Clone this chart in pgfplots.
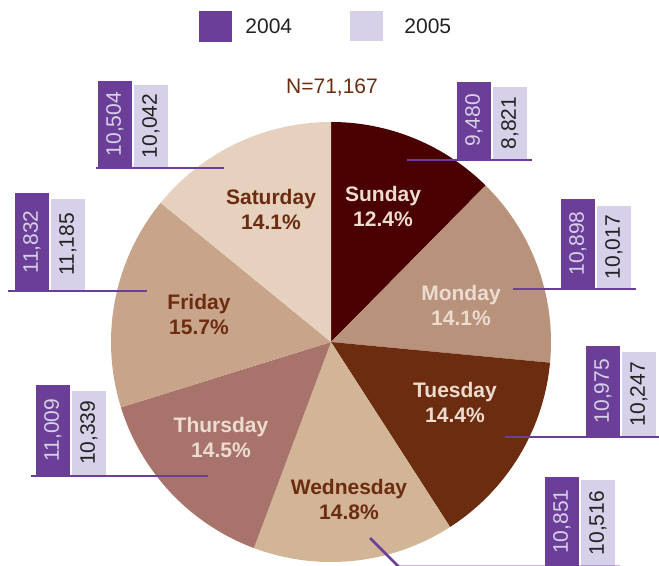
\documentclass[border=0pt]{standalone}
\usepackage{fontspec}
\setmainfont{Liberation Sans}
\usepackage{pgfplots}
\pgfplotsset{compat=1.18}
\definecolor{purp}{HTML}{6B3F98}
\definecolor{lav}{HTML}{D6D0E8}
\definecolor{numlight}{HTML}{D8D2E8}
\definecolor{numdark}{HTML}{222222}
\definecolor{cbrown}{HTML}{6B2C10}
\definecolor{clight}{HTML}{ECDCD0}
\definecolor{cSun}{HTML}{4A0000}
\definecolor{cMon}{HTML}{B8927A}
\definecolor{cTue}{HTML}{6B2C10}
\definecolor{cWed}{HTML}{D2B496}
\definecolor{cThu}{HTML}{A8736A}
\definecolor{cFri}{HTML}{C8A48A}
\definecolor{cSat}{HTML}{E6D0BE}
\tikzset{lbl/.style={align=center, inner sep=0pt, font=\bfseries\fontsize{10.5}{12.5}\selectfont}}
% pie: centre (331,342), radius 220 (pixel units, y downwards)
% slice: start angle, end angle (clockwise from top, 3.6 deg per percent), colour
\newcommand{\pieslice}[3]{%
  \addplot[fill=#3, draw=none, domain=#1:#2, samples=80]
    ({331+220*sin(x)}, {342-220*cos(x)}) -- (axis cs:331,342) -- cycle;}
% mini bars: left x, base y, value 2004, value 2005, label 2004, label 2005
\newcommand{\minibars}[6]{%
  \pgfmathsetmacro{\tA}{#2-0.00817*#3}%
  \pgfmathsetmacro{\tB}{#2-0.00817*#4}%
  \pgfmathsetmacro{\xA}{#1+34}%
  \pgfmathsetmacro{\xB}{#1+36}%
  \pgfmathsetmacro{\xC}{#1+70}%
  \pgfmathsetmacro{\cA}{#1+17}%
  \pgfmathsetmacro{\cB}{#1+53}%
  \pgfmathsetmacro{\mA}{(#2+\tA)/2}%
  \pgfmathsetmacro{\mB}{(#2+\tB)/2}%
  \edef\temp{%
    \noexpand\addplot[fill=purp,draw=none] coordinates {(#1,#2) (\xA,#2) (\xA,\tA) (#1,\tA)} -- cycle;
    \noexpand\addplot[fill=lav,draw=none] coordinates {(\xB,#2) (\xC,#2) (\xC,\tB) (\xB,\tB)} -- cycle;
    \noexpand\node[rotate=90, text=numlight, inner sep=0pt, font=\noexpand\fontsize{10.5}{12.5}\noexpand\selectfont] at (axis cs:\cA,\mA) {#5};
    \noexpand\node[rotate=90, text=numdark, inner sep=0pt, font=\noexpand\fontsize{10.5}{12.5}\noexpand\selectfont] at (axis cs:\cB,\mB) {#6};
  }\temp}
\begin{document}
\begin{tikzpicture}
\path[use as bounding box] (0,0) rectangle (329.5pt,283pt);
\begin{axis}[scale only axis, width=329.5pt, height=283pt,
  xmin=0, xmax=659, ymin=0, ymax=566, y dir=reverse,
  hide axis, clip=false, at={(0,0)}, anchor=south west]
% percentages: 12.4, 14.1, 14.4, 14.8, 14.5, 15.7, 14.1 (cumulative x 3.6 deg)
\pieslice{0}{44.64}{cSun}
\pieslice{44.64}{95.4}{cMon}
\pieslice{95.4}{147.24}{cTue}
\pieslice{147.24}{200.52}{cWed}
\pieslice{200.52}{252.72}{cThu}
\pieslice{252.72}{309.24}{cFri}
\pieslice{309.24}{360}{cSat}
\node[lbl, text=clight] at (axis cs:383,206) {Sunday\\12.4\%};
\node[lbl, text=clight] at (axis cs:461,305) {Monday\\14.1\%};
\node[lbl, text=clight] at (axis cs:455,402) {Tuesday\\14.4\%};
\node[lbl, text=cbrown] at (axis cs:349,499) {Wednesday\\14.8\%};
\node[lbl, text=clight] at (axis cs:221,437) {Thursday\\14.5\%};
\node[lbl, text=cbrown] at (axis cs:199,314) {Friday\\15.7\%};
\node[lbl, text=cbrown] at (axis cs:271,209) {Saturday\\14.1\%};
% mini bars (2004, 2005)
\minibars{98}{167}{10504}{10042}{10,504}{10,042}
\minibars{457}{159}{9480}{8821}{9,480}{8,821}
\minibars{561}{288}{10898}{10017}{10,898}{10,017}
\minibars{586}{436}{10975}{10247}{10,975}{10,247}
\minibars{545}{566}{10851}{10516}{10,851}{10,516}
\minibars{36}{475}{11009}{10339}{11,009}{10,339}
\minibars{15}{290}{11832}{11185}{11,832}{11,185}
% leader lines
\addplot[purp, line width=1.3pt] coordinates {(96,168) (224,168)};
\addplot[purp, line width=1.3pt] coordinates {(407,160) (532,160)};
\addplot[purp, line width=1.3pt] coordinates {(513,289) (636,289)};
\addplot[purp, line width=1.3pt] coordinates {(505,437) (659,437)};
\addplot[purp, line width=1.3pt] coordinates {(370,538) (399,567) (620,567)};
\addplot[purp, line width=1.3pt] coordinates {(31,476) (208,476)};
\addplot[purp, line width=1.3pt] coordinates {(8,291) (147,291)};
% legend and total
\fill[purp] (axis cs:199,11) rectangle (axis cs:232,42);
\fill[lav] (axis cs:350,11) rectangle (axis cs:383,41);
\node[anchor=west, inner sep=0pt, text=numdark, font=\fontsize{10.5}{12.5}\selectfont] at (axis cs:245,26) {2004};
\node[anchor=west, inner sep=0pt, text=numdark, font=\fontsize{10.5}{12.5}\selectfont] at (axis cs:404,26) {2005};
\node[inner sep=0pt, text=cbrown, font=\fontsize{10.5}{12.5}\selectfont] at (axis cs:332,88) {N=71,167};
\end{axis}
\end{tikzpicture}
\end{document}
